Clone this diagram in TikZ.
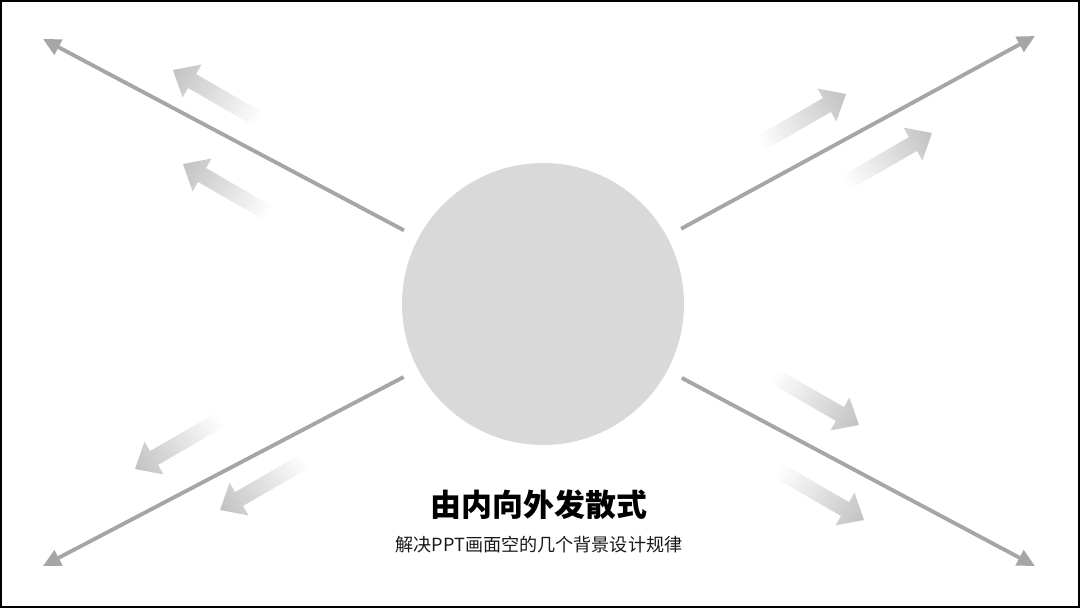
\documentclass[tikz,border=0pt]{standalone}
\usepackage{fontspec}
\setmainfont{Noto Sans CJK SC}
\usetikzlibrary{arrows.meta,positioning}

\definecolor{spokegrey}{HTML}{A6A6A6}
\definecolor{hubgrey}{HTML}{D9D9D9}
\definecolor{fadegrey}{HTML}{C2C2C2}

% faded block arrow: tip point, direction
\newcommand{\fadearrow}[2]{%
  \begin{scope}[transform canvas={shift={#1},rotate=#2}]
    \shade[left color=white,right color=fadegrey]
      (-100,-8) -- (-22,-8) -- (-22,-19) -- (0,0) -- (-22,19) -- (-22,8) -- (-100,8) -- cycle;
  \end{scope}}

\begin{document}
\begin{tikzpicture}[x=0.02cm,y=-0.02cm,
    spoke/.style={draw=spokegrey,line width=2.2pt,-{Triangle[length=10pt,width=9.5pt]},shorten <=0.32cm}]
  \useasboundingbox (0,0) rectangle (1080,608);
  % frame
  \draw[line width=1.2pt] (1,1) rectangle (1079,607);

  % centre circle
  \node[circle,fill=hubgrey,minimum size=5.64cm,inner sep=0pt] (hub) at (543,304) {};

  % spokes to the corners
  \coordinate (tl) at (43,39);
  \coordinate (tr) at (1035,36);
  \coordinate (bl) at (43,566);
  \coordinate (br) at (1035,566);
  \draw[spoke] (hub) -- (tl);
  \draw[spoke] (hub) -- (tr);
  \draw[spoke] (hub) -- (bl);
  \draw[spoke] (hub) -- (br);

  % faded arrows
  \fadearrow{(173,70)}{150}
  \fadearrow{(183,164)}{150}
  \fadearrow{(846,94)}{30}
  \fadearrow{(932,133)}{30}
  \fadearrow{(135,469)}{210}
  \fadearrow{(220,510)}{210}
  \fadearrow{(859,425)}{-30}
  \fadearrow{(864,520)}{-30}

  % caption
  \node[font=\bfseries\fontsize{17.6}{20}\selectfont] (title) at (539,505) {由内向外发散式};
  \node[font=\fontsize{10.3}{12}\selectfont,text=black!90] (subtitle) at (539,545) {解决PPT画面空的几个背景设计规律};
\end{tikzpicture}
\end{document}
